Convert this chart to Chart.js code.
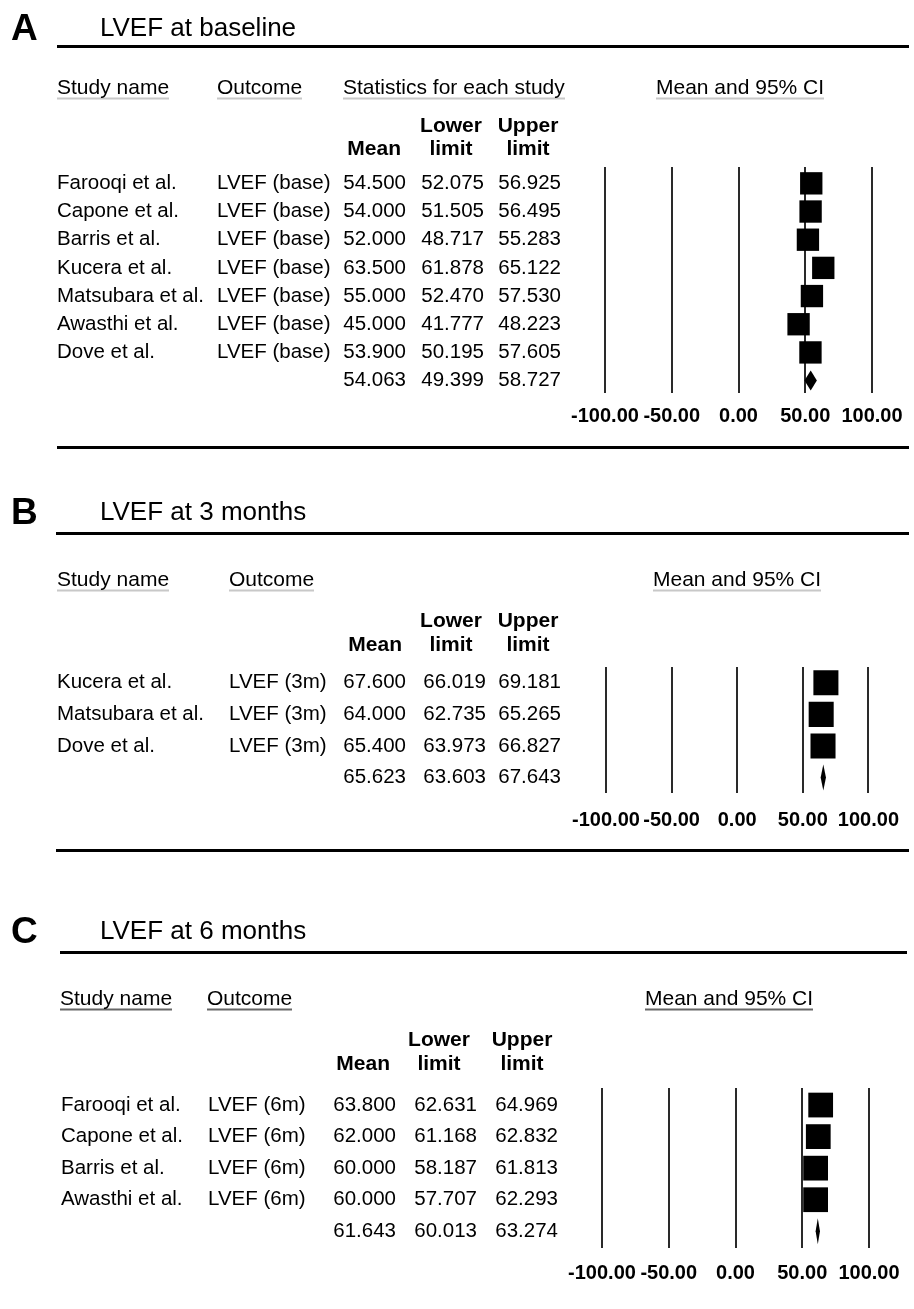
<!DOCTYPE html>
<html>
<head>
<meta charset="utf-8">
<title>LVEF forest plots</title>
<script src="https://cdn.jsdelivr.net/npm/chart.js@4.4.1/dist/chart.umd.min.js"></script>
<style>
  body { margin: 0; background: #fff; font-family: "Liberation Sans", Arial, sans-serif; color: #000; }
  #page { position: relative; width: 914px; height: 1309px; overflow: hidden; }
  #page canvas { position: absolute; left: 0; }
  .t { position: absolute; white-space: nowrap; line-height: 1; font-size: 21px; }
  .letter { font-size: 37px; font-weight: bold; }
  .title { font-size: 26px; }
  .head span { border-bottom: 2px solid #c8c8c8; }
  .headDark span { border-bottom: 2px solid #666; }
  .bold { font-weight: bold; }
  .rule { position: absolute; height: 3px; background: #000; }
</style>
</head>
<body>
<div id="page">
  <canvas id="chartA" width="914" height="460" style="top:0px"></canvas>
  <canvas id="chartB" width="914" height="400" style="top:460px"></canvas>
  <canvas id="chartC" width="914" height="449" style="top:860px"></canvas>
</div>
<script>
/* ================= DATA ================= */

const xTicks = [-100, -50, 0, 50, 100];

// A - LVEF at baseline
const studiesA = ["Farooqi et al.", "Capone et al.", "Barris et al.", "Kucera et al.",
                  "Matsubara et al.", "Awasthi et al.", "Dove et al."];
const outcomeA = "LVEF (base)";
const meanA  = [54.500, 54.000, 52.000, 63.500, 55.000, 45.000, 53.900];
const lowerA = [52.075, 51.505, 48.717, 61.878, 52.470, 41.777, 50.195];
const upperA = [56.925, 56.495, 55.283, 65.122, 57.530, 48.223, 57.605];
const summaryA = [54.063, 49.399, 58.727]; // mean, lower, upper

// B - LVEF at 3 months
const studiesB = ["Kucera et al.", "Matsubara et al.", "Dove et al."];
const outcomeB = "LVEF (3m)";
const meanB  = [67.600, 64.000, 65.400];
const lowerB = [66.019, 62.735, 63.973];
const upperB = [69.181, 65.265, 66.827];
const summaryB = [65.623, 63.603, 67.643];

// C - LVEF at 6 months
const studiesC = ["Farooqi et al.", "Capone et al.", "Barris et al.", "Awasthi et al."];
const outcomeC = "LVEF (6m)";
const meanC  = [63.800, 62.000, 60.000, 60.000];
const lowerC = [62.631, 61.168, 58.187, 57.707];
const upperC = [64.969, 62.832, 61.813, 62.293];
const summaryC = [61.643, 60.013, 63.274];

/* ================= HTML HEADINGS ================= */

const page = document.getElementById("page");

function txt(s, x, y, cls, align) {
  const d = document.createElement("div");
  d.className = "t " + (cls || "");
  d.innerHTML = s;
  d.style.left = x + "px";
  d.style.top = y + "px";
  const tx = align === "right" ? "-100%" : align === "center" ? "-50%" : "0";
  d.style.transform = `translate(${tx}, -50%)`;
  page.appendChild(d);
}

function rule(x1, x2, y) {
  const d = document.createElement("div");
  d.className = "rule";
  d.style.left = x1 + "px";
  d.style.width = (x2 - x1) + "px";
  d.style.top = (y - 1.5) + "px";
  page.appendChild(d);
}

function headings(h) {
  txt(h.letter, 11, h.letterY, "letter");
  txt(h.title, 100, h.letterY, "title");
  rule(h.ruleX1, h.ruleX2, h.ruleY);
  const hc = h.dark ? "headDark" : "head";
  txt("<span>Study name</span>", h.studyX, h.headY, hc);
  txt("<span>Outcome</span>", h.outX, h.headY, hc);
  if (h.statsX) txt("<span>Statistics for each study</span>", h.statsX, h.headY, hc);
  txt("<span>Mean and 95% CI</span>", h.ciX, h.headY, hc);
  txt("Lower", h.lowerC, h.boldY1, "bold", "center");
  txt("Upper", h.upperC, h.boldY1, "bold", "center");
  txt("Mean", h.meanR, h.boldY2, "bold", "right");
  txt("limit", h.lowerC, h.boldY2, "bold", "center");
  txt("limit", h.upperC, h.boldY2, "bold", "center");
  if (h.bottomY) rule(h.ruleX1, h.ruleX2, h.bottomY);
}

headings({ letter: "A", title: "LVEF at baseline", letterY: 27, ruleY: 46, ruleX1: 57, ruleX2: 909,
  headY: 86, studyX: 57, outX: 217, statsX: 343, ciX: 656,
  boldY1: 124, boldY2: 147, meanR: 401, lowerC: 451, upperC: 528, bottomY: 447 });

headings({ letter: "B", title: "LVEF at 3 months", letterY: 511, ruleY: 533, ruleX1: 56, ruleX2: 909,
  headY: 578, studyX: 57, outX: 229, ciX: 653,
  boldY1: 619, boldY2: 643, meanR: 402, lowerC: 451, upperC: 528, bottomY: 850 });

headings({ letter: "C", title: "LVEF at 6 months", letterY: 930, ruleY: 952, ruleX1: 60, ruleX2: 907,
  headY: 997, studyX: 60, outX: 207, ciX: 645, dark: true,
  boldY1: 1038, boldY2: 1062, meanR: 390, lowerC: 439, upperC: 522 });

/* ================= FOREST CHARTS ================= */

const FONT = '"Liberation Sans", Arial, sans-serif';
Chart.defaults.font.family = FONT;

function forestChart(id, d, lay) {
  const n = d.mean.length;

  const forestPlugin = {
    id: "forestTable",
    beforeDatasetsDraw(chart) {
      const { ctx, scales: { x, y } } = chart;
      ctx.save();
      ctx.strokeStyle = "#000";
      ctx.lineWidth = 1.5;
      // confidence intervals
      for (let i = 0; i < n; i++) {
        const py = y.getPixelForValue(i);
        ctx.beginPath();
        ctx.moveTo(x.getPixelForValue(d.lower[i]), py);
        ctx.lineTo(x.getPixelForValue(d.upper[i]), py);
        ctx.stroke();
      }
      // summary diamond
      const sy = y.getPixelForValue(n);
      const xm = x.getPixelForValue(d.summary[0]);
      ctx.fillStyle = "#000";
      ctx.beginPath();
      ctx.moveTo(x.getPixelForValue(d.summary[1]), sy);
      ctx.lineTo(xm, sy - lay.diamondH);
      ctx.lineTo(x.getPixelForValue(d.summary[2]), sy);
      ctx.lineTo(xm, sy + lay.diamondH);
      ctx.closePath();
      ctx.fill();
      ctx.restore();
    },
    afterDraw(chart) {
      const { ctx, scales: { y } } = chart;
      ctx.save();
      ctx.font = "20.5px " + FONT;
      ctx.fillStyle = "#000";
      ctx.textBaseline = "middle";
      for (let i = 0; i <= n; i++) {
        const py = y.getPixelForValue(i);
        const vals = i < n ? [d.mean[i], d.lower[i], d.upper[i]] : d.summary;
        if (i < n) {
          ctx.textAlign = "left";
          ctx.fillText(d.studies[i], lay.studyX, py);
          ctx.fillText(d.outcome, lay.outX, py);
        }
        ctx.textAlign = "right";
        ctx.fillText(vals[0].toFixed(3), lay.meanR, py);
        ctx.fillText(vals[1].toFixed(3), lay.lowerR, py);
        ctx.fillText(vals[2].toFixed(3), lay.upperR, py);
      }
      ctx.restore();
    }
  };

  const canvas = document.getElementById(id);

  return new Chart(canvas.getContext("2d"), {
    type: "scatter",
    data: {
      datasets: [{
        data: d.mean.map((m, i) => ({ x: m, y: i })),
        pointStyle: "rect",
        pointRadius: lay.radius,
        pointHoverRadius: lay.radius,
        backgroundColor: "#000",
        borderColor: "#000",
        borderWidth: 0
      }]
    },
    options: {
      responsive: false,
      animation: false,
      devicePixelRatio: 1,
      layout: {
        padding: { left: lay.left, right: canvas.width - lay.right, top: lay.top, bottom: lay.bottomPad }
      },
      plugins: { legend: { display: false }, tooltip: { enabled: false } },
      scales: {
        x: {
          type: "linear",
          min: -100,
          max: 100,
          afterBuildTicks: s => { s.ticks = xTicks.map(v => ({ value: v })); },
          afterFit: s => { s.height = 40; },
          grid: { color: "#2a2a2a", lineWidth: 2, drawTicks: false },
          border: { display: false },
          ticks: {
            autoSkip: false,
            maxRotation: 0,
            padding: lay.tickPad,
            color: "#000",
            font: { size: 20, weight: "bold" },
            callback: v => Number(v).toFixed(2)
          }
        },
        y: { type: "linear", reverse: true, min: lay.yMin, max: lay.yMax, display: false }
      }
    },
    plugins: [forestPlugin]
  });
}

forestChart("chartA",
  { studies: studiesA, outcome: outcomeA, mean: meanA, lower: lowerA, upper: upperA, summary: summaryA },
  { left: 605, right: 872, top: 167, bottomPad: 27, yMin: -0.58, yMax: 7.44, tickPad: 11,
    radius: 15.8, diamondH: 10, studyX: 57, outX: 217, meanR: 406, lowerR: 484, upperR: 561 });

forestChart("chartB",
  { studies: studiesB, outcome: outcomeB, mean: meanB, lower: lowerB, upper: upperB, summary: summaryB },
  { left: 606, right: 873, top: 207, bottomPad: 27, yMin: -0.5, yMax: 3.49, tickPad: 15,
    radius: 17.7, diamondH: 13, studyX: 57, outX: 229, meanR: 406, lowerR: 486, upperR: 561 });

forestChart("chartC",
  { studies: studiesC, outcome: outcomeC, mean: meanC, lower: lowerC, upper: upperC, summary: summaryC },
  { left: 602, right: 869, top: 228, bottomPad: 21, yMin: -0.54, yMax: 4.53, tickPad: 13,
    radius: 17.5, diamondH: 13, studyX: 61, outX: 208, meanR: 396, lowerR: 477, upperR: 558 });
</script>
</body>
</html>
